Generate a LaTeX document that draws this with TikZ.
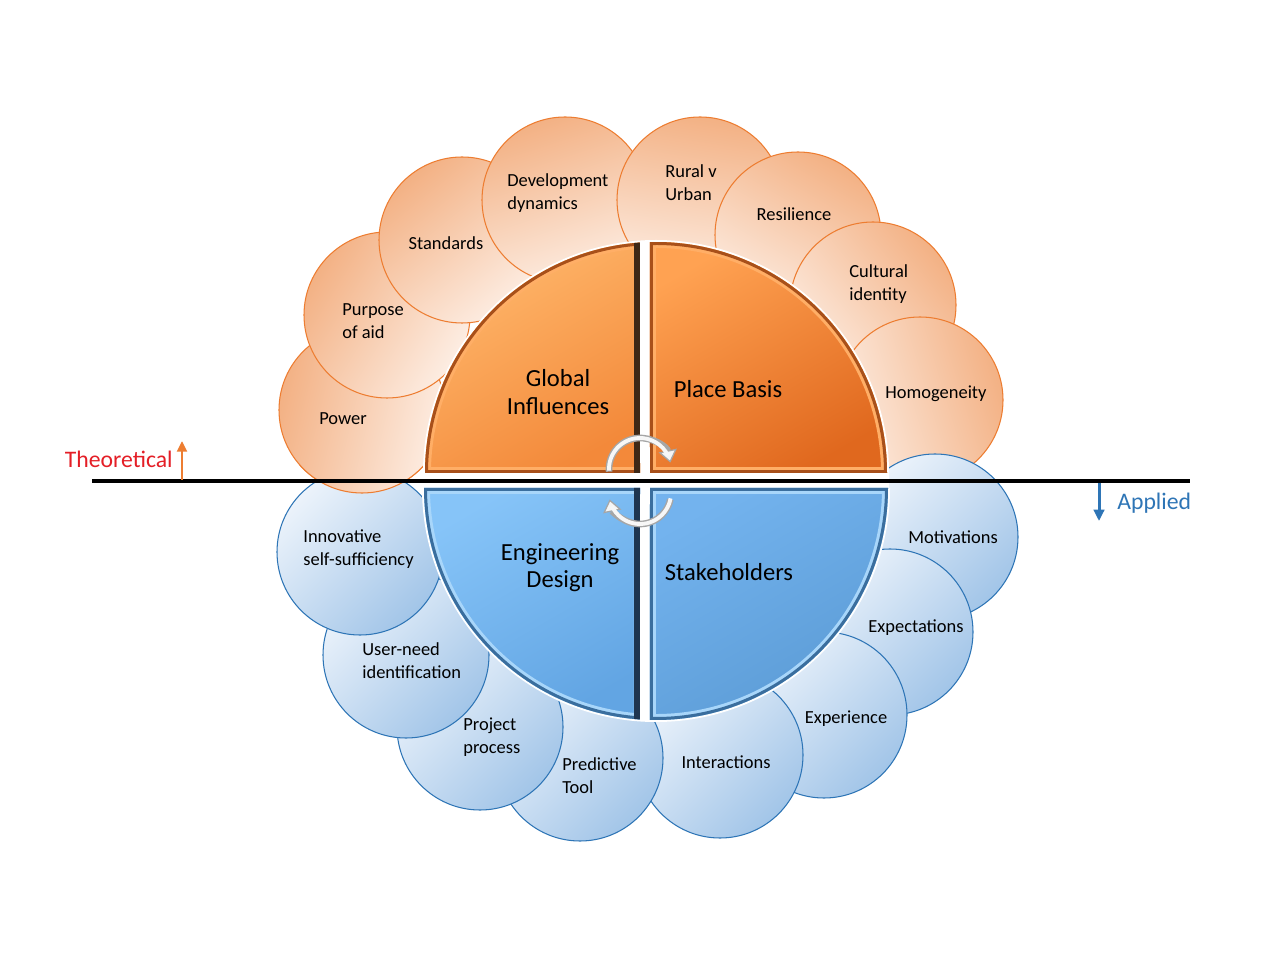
\documentclass[tikz,border=0pt]{standalone}
\usepackage{fontspec}
\setmainfont{Carlito}
\usetikzlibrary{calc,arrows.meta}

\definecolor{petalO}{HTML}{F3B184}
\definecolor{petalOl}{HTML}{FDEEE4}
\definecolor{petalOe}{HTML}{ED7D31}
\definecolor{petalB}{HTML}{A2C5E8}
\definecolor{petalBl}{HTML}{ECF3FB}
\definecolor{petalBe}{HTML}{2E75B6}
\definecolor{quadOe}{HTML}{A8501A}
\definecolor{quadOl}{HTML}{FFAE66}
\definecolor{quadOd}{HTML}{3E2816}
\definecolor{quadBe}{HTML}{3A6E9E}
\definecolor{quadBl}{HTML}{A8D6FA}
\definecolor{quadBd}{HTML}{1E3550}
\definecolor{theoRed}{HTML}{E41E26}
\definecolor{theoOrange}{HTML}{ED7D31}
\definecolor{applBlue}{HTML}{2E75B6}

\tikzset{
  petaltext/.style={font=\fontsize{10.5}{13.1}\selectfont, align=left, inner sep=0pt},
  quadtext/.style={font=\fontsize{14}{15.5}\selectfont, align=center, inner sep=0pt},
  opetal/.style={draw=petalOe, line width=0.6pt, top color=petalO, bottom color=petalOl},
  bpetal/.style={draw=petalBe, line width=0.6pt, top color=petalB, bottom color=petalBl},
  cyclearrow/.style={black!35, line width=3.8pt, -{Triangle[length=7pt,width=10.5pt,fill=gray!8,line width=0.7pt]}},
  cycleinner/.style={gray!6, line width=2.2pt}
}

\begin{document}
\begin{tikzpicture}[x=0.02cm, y=-0.02cm]
    \useasboundingbox (0,0) rectangle (1279,959);
    \fill[white] (0,0) rectangle (1279,959);
    \coordinate (C1) at (656,473);
    \coordinate (C2) at (656,488);

    \foreach \px/\py in {362/410, 387/315, 462/240, 565/200, 700/200, 798/235, 873/305, 920/400}{
        \pgfmathsetmacro\ang{atan2(480-\py,\px-656)-90}
        \draw[opetal, shading angle=\ang] (\px,\py) circle[radius=83];
    }
    \foreach \px/\py in {935/537, 890/632, 824/715, 720/755, 580/758, 480/727, 406/655, 360/552}{
        \draw[bpetal, shading angle=-135] (\px,\py) circle[radius=83];
    }
    \begin{scope}
        \clip (260,466) rectangle (450,500);
        \pgfmathsetmacro\ang{atan2(70,-294)-90}
        \draw[opetal, shading angle=\ang] (362,410) circle[radius=83];
    \end{scope}

    \fill[white] (C1) ++(-233,0) arc[start angle=180, end angle=360, radius=233] -- ++(0,15) -- ++(-466,0) -- cycle;
    \fill[white] (C2) ++(-234,0) arc[start angle=180, end angle=0, radius=234] -- cycle;

    \def\qTL{(640,473) -- ($(C1)+(-94:231)$) arc[start angle=-94, end angle=-180, radius=231] -- cycle}
    \def\qTR{(650,473) -- ($(C1)+(-91.5:231)$) arc[start angle=-91.5, end angle=0, radius=231] -- cycle}
    \def\qBL{(640,488) -- ($(C2)+(94:232)$) arc[start angle=94, end angle=180, radius=232] -- cycle}
    \def\qBR{(650,488) -- ($(C2)+(91.5:232)$) arc[start angle=91.5, end angle=0, radius=232] -- cycle}

    \begin{scope}
        \clip \qTL;
        \shade[top color={rgb,255:red,255;green,184;blue,108}, bottom color={rgb,255:red,243;green,137;blue,58}, shading angle=30] \qTL;
        \draw[quadOl, line width=6.8pt] \qTL;
        \draw[quadOe, line width=3.4pt] \qTL;
        \fill[quadOd] (634,230) rectangle (641,480);
    \end{scope}
    \begin{scope}
        \clip \qTR;
        \shade[top color={rgb,255:red,255;green,162;blue,82}, bottom color={rgb,255:red,224;green,104;blue,30}, shading angle=30] \qTR;
        \draw[quadOl, line width=6.8pt] \qTR;
        \draw[quadOe, line width=3.4pt] \qTR;
    \end{scope}
    \begin{scope}
        \clip \qBL;
        \shade[top color={rgb,255:red,134;green,196;blue,248}, bottom color={rgb,255:red,98;green,165;blue,227}, shading angle=30] \qBL;
        \draw[quadBl, line width=6.8pt] \qBL;
        \draw[quadBe, line width=3.4pt] \qBL;
        \fill[quadBd] (634,480) rectangle (641,730);
    \end{scope}
    \begin{scope}
        \clip \qBR;
        \shade[top color={rgb,255:red,115;green,179;blue,238}, bottom color={rgb,255:red,91;green,155;blue,213}, shading angle=30] \qBR;
        \draw[quadBl, line width=6.8pt] \qBR;
        \draw[quadBe, line width=3.4pt] \qBR;
    \end{scope}

    \node[quadtext] (global) at (558,392) {Global\\Influences};
    \node[quadtext] (place) at (728,389) {Place Basis};
    \node[quadtext] (engdesign) at (560,568) {Engineering\\Design};
    \node[quadtext] (stake) at (729,572) {Stakeholders};

    \node[petaltext] (power) at (343,419) {Power};
    \node[petaltext, anchor=west] (purpose) at (342,321) {Purpose\\of aid};
    \node[petaltext] (standards) at (446,243) {Standards};
    \node[petaltext, anchor=west] (devdyn) at (507,193) {Development\\dynamics};
    \node[petaltext, anchor=west] (rural) at (665,183) {Rural v\\Urban};
    \node[petaltext] (resilience) at (794,214) {Resilience};
    \node[petaltext, anchor=west] (cultural) at (849,284) {Cultural\\identity};
    \node[petaltext] (homog) at (936,394) {Homogeneity};
    \node[petaltext] (motiv) at (953,537) {Motivations};
    \node[petaltext] (expect) at (916,628) {Expectations};
    \node[petaltext] (exper) at (846,719) {Experience};
    \node[petaltext] (interact) at (726,762) {Interactions};
    \node[petaltext, anchor=west] (predict) at (562,776) {Predictive\\Tool};
    \node[petaltext, anchor=west] (project) at (463,737) {Project\\process};
    \node[petaltext, anchor=west] (userneed) at (362,661) {User-need\\identification};
    \node[petaltext, anchor=west] (innov) at (303,549) {Innovative\\self-sufficiency};

    \coordinate (lineL) at (92,481);
    \coordinate (lineR) at (1190,481);
    \draw[line width=2.3pt] (lineL) -- (lineR);

    \node[text=theoRed, font=\fontsize{13.5}{16}\selectfont, anchor=base east, inner sep=0pt] (theo) at (173,468) {Theoretical};
    \coordinate (theoA) at (182,480);
    \coordinate (theoB) at (182,441);
    \draw[theoOrange, line width=1.7pt, -{Triangle[length=6pt,width=5.5pt]}] (theoA) -- (theoB);

    \node[text=applBlue, font=\fontsize{13.5}{16}\selectfont, anchor=base west, inner sep=0pt] (appl) at (1117,510) {Applied};
    \coordinate (applA) at (1099,483);
    \coordinate (applB) at (1099,521);
    \draw[applBlue, line width=1.7pt, -{Triangle[length=6.5pt,width=6pt]}] (applA) -- (applB);

    \coordinate (R1) at (640,469);
    \coordinate (R2) at (640,493);
    \draw[cyclearrow] (R1) ++(-185:31) arc[start angle=-185, end angle=-12, radius=31];
    \draw[cycleinner] (R1) ++(-183:31) arc[start angle=-183, end angle=-25, radius=31];
    \draw[cyclearrow] (R2) ++(12:31) arc[start angle=12, end angle=168, radius=31];
    \draw[cycleinner] (R2) ++(10:31) arc[start angle=10, end angle=155, radius=31];
\end{tikzpicture}
\end{document}
